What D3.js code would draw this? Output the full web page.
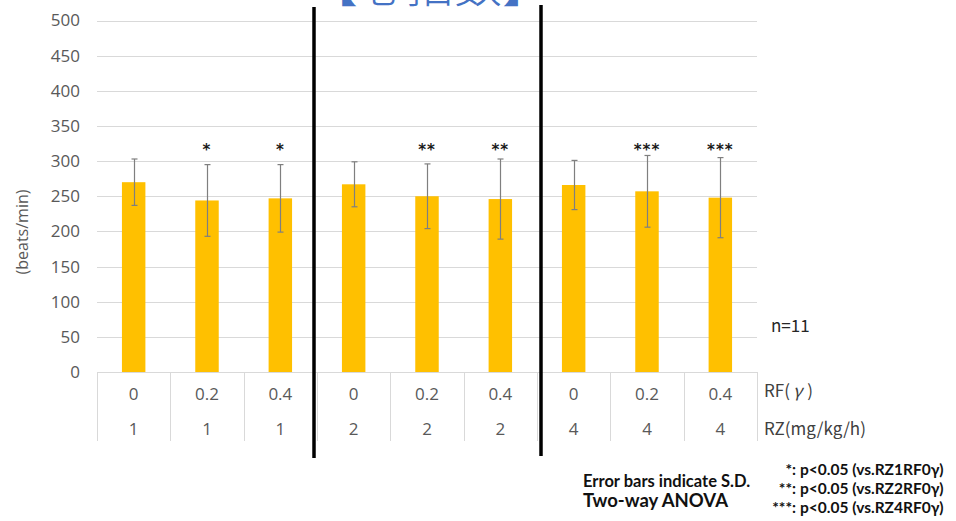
<!DOCTYPE html>
<html>
<head>
<meta charset="utf-8">
<script src="https://cdn.jsdelivr.net/npm/d3@7"></script>
<style>
  html, body { margin: 0; padding: 0; background: #fff; }
  svg { display: block; }
</style>
</head>
<body>
<script>
// Heart rate by RZ dose and RF dose
const rfLabels = ["0", "0.2", "0.4", "0", "0.2", "0.4", "0", "0.2", "0.4"];
const rzLabels = ["1", "1", "1", "2", "2", "2", "4", "4", "4"];
const means = [270, 244, 247, 267, 250, 246, 266, 257, 248];
const sds = [33, 51, 48, 32, 46, 57, 35, 51, 57];
const marks = ["", "*", "*", "", "**", "**", "", "***", "***"];
const yTicks = [0, 50, 100, 150, 200, 250, 300, 350, 400, 450, 500];
const notesLeft = ["Error bars indicate S.D.", "Two-way ANOVA"];
const notesMarks = ["*:", "**:", "***:"];
const notesRight = ["p<0.05 (vs.RZ1RF0γ)", "p<0.05 (vs.RZ2RF0γ)", "p<0.05 (vs.RZ4RF0γ)"];

(function () {
const W = 956, H = 521;
const svg = d3.select("body").append("svg").attr("width", W).attr("height", H);

const plotL = 97, plotR = 757, plotT = 20.5, plotB = 372;
const x = d3.scaleBand().domain(d3.range(means.length)).range([plotL, plotR]).padding(0);
const y = d3.scaleLinear().domain([0, 500]).range([plotB, plotT]);
const bw = x.bandwidth() * 0.32;
const labelFont = "'Open Sans', 'Noto Sans', sans-serif";
const grey = "#595959";
const grid = "#d9d9d9";

// title (runs off the top edge)
svg.append("text")
  .attr("x", 430).attr("y", 1.5)
  .attr("text-anchor", "middle")
  .attr("font-family", "'Noto Sans CJK JP', sans-serif")
  .attr("font-size", 48)
  .attr("font-weight", 300)
  .attr("fill", "#4472c4")
  .text("【心拍数】");

// gridlines
svg.append("g").selectAll("line").data(yTicks.filter(d => d > 0)).join("line")
  .attr("x1", plotL).attr("x2", plotR)
  .attr("y1", d => Math.round(y(d)) + 0.5).attr("y2", d => Math.round(y(d)) + 0.5)
  .attr("stroke", grid).attr("stroke-width", 1);

// y tick labels
svg.append("g").selectAll("text").data(yTicks).join("text")
  .attr("x", 80).attr("y", d => y(d))
  .attr("dy", "0.35em")
  .attr("text-anchor", "end")
  .attr("font-family", labelFont).attr("font-size", 17)
  .attr("fill", grey)
  .text(d => d);

// y axis title
svg.append("text")
  .attr("transform", "translate(22,232) rotate(-90)")
  .attr("text-anchor", "middle").attr("dy", "0.35em")
  .attr("font-family", labelFont).attr("font-size", 16)
  .attr("fill", grey)
  .text("(beats/min)");

// bars
const idx = d3.range(means.length);
svg.append("g").selectAll("rect").data(idx).join("rect")
  .attr("x", i => x(i) + (x.bandwidth() - bw) / 2)
  .attr("width", bw)
  .attr("y", i => y(means[i]))
  .attr("height", i => y(0) - y(means[i]))
  .attr("fill", "#ffc000");

// error bars
const eb = svg.append("g").attr("stroke", "#7f7f7f").attr("stroke-width", 1.2);
idx.forEach(i => {
  const cx = Math.round(x(i) + x.bandwidth() / 2) + 0.5;
  const hi = y(means[i] + sds[i]), lo = y(means[i] - sds[i]);
  eb.append("line").attr("x1", cx).attr("x2", cx).attr("y1", hi).attr("y2", lo);
  eb.append("line").attr("x1", cx - 3).attr("x2", cx + 3).attr("y1", hi).attr("y2", hi);
  eb.append("line").attr("x1", cx - 3).attr("x2", cx + 3).attr("y1", lo).attr("y2", lo);
});

// significance marks
svg.append("g").selectAll("text").data(idx.filter(i => marks[i])).join("text")
  .attr("x", i => x(i) + x.bandwidth() / 2)
  .attr("y", 155)
  .attr("text-anchor", "middle")
  .attr("font-family", "'DejaVu Sans', sans-serif")
  .attr("font-weight", "bold").attr("font-size", 15)
  .attr("letter-spacing", 1)
  .attr("fill", "#1a1a1a")
  .text(i => marks[i]);

// category table below the plot
const tbl = svg.append("g").attr("stroke", grid).attr("stroke-width", 1);
tbl.append("line").attr("x1", plotL).attr("x2", plotR).attr("y1", plotB + 0.5).attr("y2", plotB + 0.5);
d3.range(means.length + 1).forEach(k => {
  const xx = Math.round(k < means.length ? x(k) : plotR) + 0.5;
  tbl.append("line").attr("x1", xx).attr("x2", xx).attr("y1", plotB).attr("y2", 441);
});

svg.append("g").selectAll("text").data(idx).join("text")
  .attr("x", i => x(i) + x.bandwidth() / 2).attr("y", 394)
  .attr("dy", "0.35em").attr("text-anchor", "middle")
  .attr("font-family", labelFont).attr("font-size", 17).attr("fill", grey)
  .text(i => rfLabels[i]);
svg.append("g").selectAll("text").data(idx).join("text")
  .attr("x", i => x(i) + x.bandwidth() / 2).attr("y", 429)
  .attr("dy", "0.35em").attr("text-anchor", "middle")
  .attr("font-family", labelFont).attr("font-size", 17).attr("fill", grey)
  .text(i => rzLabels[i]);

// row captions and sample size
const cap = "'Noto Sans CJK JP', sans-serif";
const rf = svg.append("text").attr("x", 764).attr("y", 391).attr("dy", "0.35em")
  .attr("font-family", cap).attr("font-size", 17).attr("fill", "#404040");
rf.append("tspan").text("RF(");
rf.append("tspan").attr("dx", 3).attr("font-style", "italic").text("γ");
rf.append("tspan").attr("dx", 5).text(")");
svg.append("text").attr("x", 764).attr("y", 429).attr("dy", "0.35em")
  .attr("font-family", cap).attr("font-size", 17).attr("fill", "#404040")
  .text("RZ(mg/kg/h)");
svg.append("text").attr("x", 771).attr("y", 326).attr("dy", "0.35em")
  .attr("font-family", cap).attr("font-size", 17).attr("fill", "#262626")
  .text("n=11");

// group separators
const sepX = [x(3) - 3, x(6) + 4];
const sepTop = [7, 5], sepBottom = [458, 456];
sepX.forEach((sx, k) => {
  svg.append("line").attr("x1", sx).attr("x2", sx)
    .attr("y1", sepTop[k]).attr("y2", sepBottom[k])
    .attr("stroke", "#000").attr("stroke-width", 3.5);
});

// footnotes
const noteFont = "Lato, 'Open Sans', sans-serif";
svg.append("text").attr("x", 583).attr("y", 481).attr("dy", "0.35em")
  .attr("font-family", noteFont).attr("font-weight", "bold").attr("font-size", 16.5)
  .attr("fill", "#111").text(notesLeft[0]);
svg.append("text").attr("x", 583).attr("y", 501).attr("dy", "0.35em")
  .attr("font-family", noteFont).attr("font-weight", "bold").attr("font-size", 18.5)
  .attr("fill", "#111").text(notesLeft[1]);
const rightY = [470, 489, 508];
notesRight.forEach((t, k) => {
  svg.append("text").attr("x", 796).attr("y", rightY[k]).attr("dy", "0.35em")
    .attr("text-anchor", "end")
    .attr("font-family", noteFont).attr("font-weight", "bold").attr("font-size", 15.5)
    .attr("fill", "#111").text(notesMarks[k]);
  svg.append("text").attr("x", 800).attr("y", rightY[k]).attr("dy", "0.35em")
    .attr("font-family", noteFont).attr("font-weight", "bold").attr("font-size", 15.5)
    .attr("fill", "#111").text(t);
});
})();
</script>
</body>
</html>
